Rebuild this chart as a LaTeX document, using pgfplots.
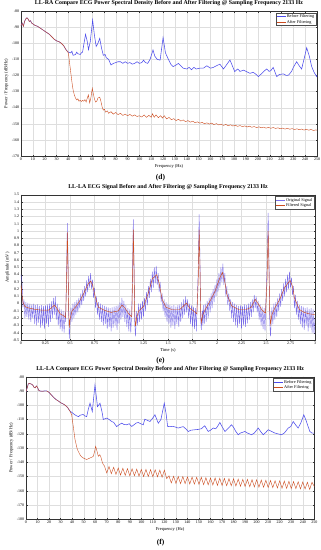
\documentclass[border=0pt]{standalone}
\usepackage{fontspec}
\setmainfont{Liberation Serif}
\usepackage{pgfplots}
\pgfplotsset{compat=1.18}
\definecolor{bfc}{rgb}{0.30,0.30,0.92}
\definecolor{ofc}{rgb}{0.36,0.30,0.90}
\definecolor{afc}{rgb}{0.80,0.30,0.12}
\definecolor{gridc}{gray}{0.87}
\pgfplotsset{
 mystyle/.style={
   scale only axis,
   anchor=north west,
   /pgf/number format/assume math mode=true,
   tick label style={font=\fontsize{8}{9}\selectfont},
   grid=major,
   major grid style={gridc, line width=0.4pt},
   axis line style={black!80, line width=0.5pt},
   tick style={black!80, line width=0.4pt},
   major tick length=3pt,
   title style={font=\bfseries\fontsize{11.8}{13}\selectfont, anchor=south, at={(0.5,1)}, yshift=0pt},
   label style={font=\fontsize{9}{10}\selectfont},
   legend style={font=\fontsize{8.5}{10}\selectfont, at={(1,1)}, anchor=north east, xshift=-2pt, yshift=-3pt, draw=black!70, line width=0.4pt, inner sep=1.5pt},
   legend cell align=left,
 }
}
\begin{document}
\begin{tikzpicture}
\useasboundingbox (0,0) rectangle (642pt,-1100pt);
% ---------------- (d) ----------------
\begin{axis}[mystyle, at={(42pt,-22pt)}, width=592pt, height=290pt,
  xmin=0, xmax=250, ymin=-170, ymax=-80,
  xtick={0,10,...,250}, ytick={-170,-160,...,-80},
  title={LL-RA Compare ECG Power Spectral Density Before and After Filtering @ Sampling Frequency 2133 Hz},
  xlabel={Frequency (Hz)}, ylabel={Power / Frequency (dB/Hz)}]
\addplot[bfc, line width=1.1pt] coordinates {
(0,-89) (1,-87.5) (2,-89.5) (3,-86.5) (4,-85) (5,-84.2) (6,-85) (7,-86.5) (8,-86) (9,-87.5) (10,-88)
(12,-89) (14,-89.5) (16,-90.5) (18,-91.5) (20,-92.5) (22,-93.5) (24,-94.5) (26,-96) (28,-97.5) (30,-98.5)
(32,-99) (34,-100) (36,-101.5) (38,-104) (40,-105.5) (42,-106) (43,-105) (44,-107.5) (46,-107) (47,-105.5)
(48,-106.5) (50,-107) (51,-106) (52,-105.5) (53,-101) (54.5,-94.5) (56,-99) (57,-104) (58.5,-99) (60.5,-85.6)
(62,-95) (63.5,-102) (65,-100) (66.5,-97) (68,-103) (69.5,-107.5) (71,-107) (72,-109) (74,-110) (76,-113.5)
(78,-112.5) (80,-112) (82,-111.5) (84,-111.5) (86,-112.5) (88,-111.5) (90,-112.5) (92,-112) (94,-113) (96,-112.5)
(98,-111.5) (100,-112.5) (102,-112) (103.5,-110.5) (105,-112) (107,-112.5) (109,-110) (111.5,-104.2) (113,-108)
(115,-110) (117.5,-110.5) (120,-96.5) (122,-106) (124.5,-110) (126.5,-113) (128.5,-114.5) (131,-113.5) (133,-112.5)
(135,-114) (137,-115.5) (140,-116) (142,-115) (144,-116.5) (146,-115) (148,-116) (151,-115.5) (154,-115.5)
(157,-114) (160,-115.5) (162.5,-115) (165,-114) (168,-113) (170,-115) (171,-116) (173,-114) (176.5,-110.4)
(178.5,-114) (180.5,-117.6) (183,-116) (185,-117.5) (188,-116.7) (190,-117.5) (193.5,-118.7) (196,-118) (198,-119)
(200.5,-120.7) (203,-119) (205,-117.5) (207.5,-116) (209.5,-117.5) (211,-117) (213,-115) (216,-120.7) (218,-119.5)
(221.5,-119) (224,-120) (226,-119.8) (228.5,-117.5) (230,-115) (232.8,-111.5) (235,-114) (237,-116) (239,-110)
(241.3,-102.8) (243.5,-108) (245.5,-114.5) (247.5,-118) (249.7,-120.7) (250,-120)
};
\addlegendentry{Before Filtering}
\addplot[afc, line width=0.8pt] coordinates {
(0,-89) (1,-87.5) (2,-89.5) (3,-86.5) (4,-85) (5,-84.2) (6,-85) (7,-86.5) (8,-86) (9,-87.5) (10,-88)
(12,-89) (14,-89.5) (16,-90.5) (18,-91.5) (20,-92.5) (22,-93.5) (24,-94.5) (26,-96) (28,-97.5) (30,-98.5)
(32,-99) (34,-100) (36,-101.5) (38,-104) (40,-106) (41,-112) (42,-118) (43,-124) (44,-129) (45,-132) (46,-134)
(47,-135.2) (48,-134.5) (49,-136) (50,-135.5) (51,-136.2) (52,-135.5) (53,-136) (54,-135) (55,-136.5) (56,-134)
(56.9,-132) (58,-137) (59,-134) (60.2,-128) (61,-131) (62,-134.5) (63,-136.5) (64,-136) (65,-134) (66.5,-133.5)
(67.5,-136) (68.5,-139.5) (69.5,-141.5) (70.5,-141) (71.5,-142.8) (73,-142) (74,-143.5) (76,-142.5) (78,-144)
(80,-143) (82,-144.3) (84,-143.5) (86,-144.8) (88,-144) (90,-145) (92,-144.2) (94,-145.3) (96,-144.5) (98,-145.5)
(100,-145) (102,-145.8) (104,-144.5) (106,-146) (108,-144.8) (110,-146) (111,-143.8) (112.5,-146) (114,-144.5)
(116,-146.2) (118,-145) (119.5,-146.5) (121,-145) (123,-147) (125,-146) (127,-147.5) (129,-146.8) (131,-148)
(133,-147.2) (135,-148.3) (137,-147.6) (139,-148.7) (141,-148) (143,-149) (145,-148.4) (147,-149.3) (149,-148.8)
(151,-149.6) (153,-149.1) (155,-150) (157,-149.4) (159,-150.2) (161,-149.6) (163,-150.5) (165,-149.9) (167,-150.7)
(169,-150.2) (171,-151) (173,-150.4) (175,-151.2) (177,-150.6) (179,-151.4) (181,-150.9) (183,-151.6) (185,-151.1)
(187,-151.8) (189,-151.3) (191,-152) (193,-151.5) (195,-152.2) (197,-151.7) (199,-152.4) (201,-151.9) (203,-152.5)
(205,-152.1) (207,-152.7) (209,-152.2) (211,-152.8) (213,-152.3) (215,-152.9) (217,-152.5) (219,-153.1) (221,-152.7)
(223,-153.3) (225,-152.8) (227,-153.4) (229,-153) (231,-153.6) (233,-153.1) (235,-153.7) (237,-153.3) (239,-153.9)
(241,-153.4) (243,-154) (245,-153.5) (247,-154.2) (249,-153.8) (250,-154)
};
\addlegendentry{After Filtering}
\end{axis}
\node[font=\bfseries\fontsize{15}{16}\selectfont] at (321pt,-356pt) {(d)};
% ---------------- (e) ----------------
\begin{axis}[mystyle, at={(42pt,-389.4pt)}, width=588pt, height=290.6pt,
  xmin=0, xmax=3, ymin=-0.5, ymax=1.5,
  xtick={0,0.25,...,3}, ytick={-0.5,-0.4,...,1.5},
  /pgf/number format/.cd, fixed, precision=2, /pgfplots/.cd,
  title={LL-LA ECG Signal Before and After Filtering @ Sampling Frequency 2133 Hz},
  xlabel={Time (s)}, ylabel={Amplitude (mV)}]
\addplot[ofc, line width=0.8pt, draw opacity=0.8] coordinates {
(0.00,0.40) (0.01,0.30) (0.02,-0.05) (0.03,0.06) (0.04,-0.20) (0.05,0.02) (0.06,-0.18) (0.07,0.01) (0.08,-0.22) (0.09,0.00)
(0.10,-0.25) (0.11,-0.01) (0.12,-0.20) (0.13,0.00) (0.14,-0.28) (0.15,-0.02) (0.16,-0.30) (0.17,-0.01) (0.18,-0.26) (0.19,-0.03)
(0.20,-0.33) (0.21,-0.02) (0.22,-0.30) (0.23,-0.03) (0.24,-0.35) (0.25,-0.02) (0.26,-0.28) (0.27,-0.01) (0.28,-0.32) (0.29,0.00)
(0.30,-0.25) (0.31,0.03) (0.32,-0.20) (0.33,0.08) (0.34,-0.15) (0.35,0.10) (0.36,-0.22) (0.37,0.00) (0.38,-0.30) (0.39,-0.05)
(0.40,-0.35) (0.41,-0.08) (0.42,-0.38) (0.43,-0.10) (0.44,-0.40) (0.45,-0.12) (0.455,-0.25) (0.465,0.40) (0.473,1.11) (0.48,0.60)
(0.487,-0.20) (0.493,-0.48) (0.50,-0.30) (0.51,-0.05) (0.52,-0.25) (0.53,0.00) (0.54,-0.20) (0.55,0.02) (0.56,-0.15) (0.57,0.05)
(0.58,-0.12) (0.59,0.08) (0.60,-0.06) (0.61,0.14) (0.62,-0.02) (0.63,0.19) (0.64,0.04) (0.65,0.24) (0.66,0.10) (0.67,0.32)
(0.68,0.16) (0.69,0.38) (0.70,0.22) (0.71,0.42) (0.72,0.20) (0.73,0.33) (0.74,0.08) (0.75,0.22) (0.76,-0.06) (0.77,0.10)
(0.78,-0.15) (0.79,0.02) (0.80,-0.22) (0.81,0.00) (0.82,-0.25) (0.83,-0.02) (0.84,-0.30) (0.85,-0.03) (0.86,-0.28) (0.87,-0.04)
(0.88,-0.35) (0.89,-0.05) (0.90,-0.32) (0.91,-0.06) (0.92,-0.38) (0.93,-0.05) (0.94,-0.33) (0.95,-0.04) (0.96,-0.30) (0.97,-0.03)
(0.98,-0.36) (0.99,-0.02) (1.00,-0.28) (1.01,0.02) (1.02,-0.22) (1.03,0.08) (1.04,-0.18) (1.05,0.04) (1.06,-0.25) (1.07,-0.02)
(1.08,-0.32) (1.09,-0.06) (1.10,-0.38) (1.11,-0.08) (1.12,-0.40) (1.13,-0.12) (1.138,0.45) (1.146,1.16) (1.153,0.62) (1.16,-0.25)
(1.168,-0.45) (1.18,-0.10) (1.19,-0.30) (1.20,0.00) (1.21,-0.25) (1.22,0.00) (1.23,-0.22) (1.24,0.04) (1.25,-0.18) (1.26,0.08)
(1.27,-0.10) (1.28,0.16) (1.29,-0.02) (1.30,0.24) (1.31,0.08) (1.32,0.34) (1.33,0.16) (1.34,0.44) (1.35,0.22) (1.36,0.50)
(1.37,0.28) (1.38,0.52) (1.39,0.26) (1.40,0.42) (1.41,0.16) (1.42,0.30) (1.43,0.02) (1.44,0.14) (1.45,-0.10) (1.46,0.06)
(1.47,-0.18) (1.48,0.02) (1.49,-0.25) (1.50,0.00) (1.51,-0.28) (1.52,-0.02) (1.53,-0.33) (1.54,-0.03) (1.55,-0.30) (1.56,-0.02)
(1.57,-0.35) (1.58,-0.04) (1.59,-0.28) (1.60,-0.02) (1.61,-0.32) (1.62,-0.01) (1.63,-0.25) (1.64,0.02) (1.65,-0.20) (1.66,0.06)
(1.67,-0.15) (1.68,0.10) (1.69,-0.12) (1.70,0.06) (1.71,-0.20) (1.72,0.00) (1.73,-0.28) (1.74,-0.02) (1.75,-0.32) (1.76,-0.04)
(1.77,-0.35) (1.78,-0.06) (1.79,-0.38) (1.795,-0.10) (1.808,0.45) (1.818,1.23) (1.826,0.65) (1.833,-0.20) (1.84,-0.36) (1.85,-0.10)
(1.855,-0.30) (1.86,-0.02) (1.87,-0.28) (1.88,0.00) (1.89,-0.25) (1.90,0.04) (1.91,-0.20) (1.92,0.08) (1.93,-0.12) (1.94,0.14)
(1.95,-0.06) (1.96,0.20) (1.97,0.02) (1.98,0.26) (1.99,0.10) (2.00,0.34) (2.01,0.16) (2.02,0.42) (2.03,0.22) (2.04,0.50)
(2.05,0.30) (2.06,0.55) (2.07,0.26) (2.08,0.42) (2.09,0.10) (2.10,0.24) (2.11,-0.02) (2.12,0.14) (2.13,-0.10) (2.14,0.06)
(2.15,-0.20) (2.16,0.02) (2.17,-0.25) (2.18,0.00) (2.19,-0.30) (2.20,-0.02) (2.21,-0.33) (2.22,-0.03) (2.23,-0.28) (2.24,-0.02)
(2.25,-0.35) (2.26,-0.03) (2.27,-0.30) (2.28,-0.01) (2.29,-0.32) (2.30,-0.02) (2.31,-0.27) (2.32,0.00) (2.33,-0.22) (2.34,0.02)
(2.35,-0.18) (2.36,0.06) (2.37,-0.12) (2.38,0.12) (2.39,-0.06) (2.40,0.10) (2.41,-0.12) (2.42,0.04) (2.43,-0.22) (2.44,-0.01)
(2.45,-0.30) (2.46,-0.04) (2.47,-0.35) (2.48,-0.06) (2.49,-0.38) (2.495,-0.10) (2.51,0.45) (2.522,1.25) (2.53,0.65) (2.538,-0.25)
(2.546,-0.45) (2.56,-0.05) (2.57,-0.28) (2.58,0.00) (2.59,-0.22) (2.60,0.02) (2.61,-0.18) (2.62,0.08) (2.63,-0.10) (2.64,0.14)
(2.65,-0.04) (2.66,0.20) (2.67,0.04) (2.68,0.28) (2.69,0.10) (2.70,0.34) (2.71,0.16) (2.72,0.40) (2.73,0.20) (2.74,0.44)
(2.75,0.22) (2.76,0.36) (2.77,0.12) (2.78,0.24) (2.79,-0.06) (2.80,0.12) (2.81,-0.15) (2.82,0.04) (2.83,-0.22) (2.84,-0.02)
(2.85,-0.28) (2.86,-0.03) (2.87,-0.33) (2.88,-0.04) (2.89,-0.36) (2.90,-0.06) (2.91,-0.30) (2.92,-0.05) (2.93,-0.38) (2.94,-0.07)
(2.95,-0.33) (2.96,-0.06) (2.97,-0.40) (2.98,-0.08) (2.99,-0.42) (3.00,-0.20)
};
\addlegendentry{Original Signal}
\addplot[afc, line width=0.9pt] coordinates {
(0.000,0.25) (0.010,0.12) (0.020,0.02) (0.040,-0.04) (0.080,-0.06) (0.150,-0.08) (0.220,-0.09) (0.280,-0.09)
(0.310,-0.06) (0.340,-0.02) (0.360,-0.05) (0.400,-0.14) (0.440,-0.17) (0.455,-0.19) (0.465,0.30) (0.473,0.98)
(0.480,0.50) (0.487,-0.10) (0.493,-0.33) (0.500,-0.22) (0.520,-0.10) (0.560,-0.04) (0.600,0.04) (0.640,0.14)
(0.680,0.26) (0.710,0.31) (0.730,0.26) (0.760,0.08) (0.790,-0.05) (0.850,-0.09) (0.920,-0.12) (0.990,-0.10)
(1.030,-0.02) (1.060,-0.06) (1.100,-0.14) (1.130,-0.18) (1.138,0.30) (1.146,1.02) (1.153,0.50) (1.160,-0.10)
(1.168,-0.31) (1.180,-0.20) (1.200,-0.10) (1.250,-0.04) (1.300,0.15) (1.340,0.34) (1.385,0.40) (1.410,0.28)
(1.440,0.06) (1.480,-0.05) (1.540,-0.08) (1.620,-0.08) (1.660,-0.03) (1.690,0.01) (1.720,-0.06) (1.760,-0.10)
(1.795,-0.14) (1.808,0.30) (1.818,1.02) (1.826,0.50) (1.833,-0.10) (1.840,-0.26) (1.855,-0.15) (1.880,-0.08)
(1.930,0.04) (1.980,0.17) (2.030,0.36) (2.055,0.43) (2.080,0.30) (2.100,0.13) (2.150,-0.03) (2.220,-0.08)
(2.300,-0.08) (2.350,-0.05) (2.390,0.06) (2.420,0.00) (2.460,-0.09) (2.495,-0.13) (2.510,0.30) (2.522,1.00)
(2.530,0.50) (2.538,-0.10) (2.546,-0.28) (2.560,-0.15) (2.590,-0.06) (2.640,0.06) (2.690,0.22) (2.745,0.32)
(2.770,0.24) (2.790,0.08) (2.840,-0.08) (2.890,-0.12) (2.940,-0.14) (3.000,-0.15)
};
\addlegendentry{Filtered Signal}
\end{axis}
\node[font=\bfseries\fontsize{15}{16}\selectfont] at (321pt,-721pt) {(e)};
% ---------------- (f) ----------------
\begin{axis}[mystyle, at={(52pt,-753.4pt)}, width=576.6pt, height=285.2pt,
  xmin=0, xmax=250, ymin=-180, ymax=-80,
  xtick={0,10,...,250}, ytick={-180,-170,...,-80},
  title={LL-LA Compare ECG Power Spectral Density Before and After Filtering @ Sampling Frequency 2133 Hz},
  xlabel={Frequency (Hz)}, ylabel={Power / Frequency (dB/Hz)}]
\addplot[bfc, line width=1.1pt] coordinates {
(0,-90.5) (1,-88) (2,-85) (3,-84.7) (4,-85) (5,-85.3) (6,-86) (7,-87.5) (8,-87.8) (9,-86.5) (10,-87.5) (11,-89.5)
(12,-90) (14,-90.2) (16,-90) (18,-90) (20,-91) (22,-92.8) (24,-94.5) (26,-96) (28,-97) (30,-98.2) (32,-99) (34,-100)
(36,-101.5) (38,-104) (40,-105.2) (42,-106.5) (44,-107.5) (45.5,-108) (47,-107) (49.5,-106.5) (51,-107.5) (52.6,-108)
(54,-103) (55.5,-98.6) (57.5,-104.4) (59.8,-85.8) (62,-101) (64.2,-98.6) (66,-105) (67,-110) (70,-109) (72,-110)
(74.3,-111.4) (76,-112) (78.6,-115) (81,-113.5) (83,-112.6) (85,-113.5) (87.3,-113.7) (89.5,-113) (91.6,-114.9)
(94,-113.5) (95.5,-112.5) (97.4,-112.1) (99.5,-113) (101.7,-113.7) (103,-109.8) (105,-110.5) (107.5,-111.4)
(109.5,-109.5) (111.8,-106.7) (114.7,-112.6) (117,-110) (119.9,-98.6) (121.5,-106) (122.8,-114.9) (125,-115)
(127,-114.8) (129.5,-115.3) (132,-116) (134,-115.5) (136.3,-115) (138.5,-116.5) (140.7,-118.4) (143,-117.5)
(146.4,-117.2) (149,-117) (152,-116.5) (155,-114.4) (158,-118.4) (160,-117.5) (162.4,-116) (164.5,-116.5) (166,-115)
(168.1,-112.1) (170,-115) (172.5,-118.4) (175,-116.5) (178.2,-113.7) (180,-115.5) (182,-118.5) (184,-120.7)
(186,-119.5) (189.8,-118.4) (192,-119.5) (195.6,-120.7) (198,-119.5) (201.4,-116) (203.5,-118.5) (205.7,-120.7)
(208,-119) (210,-117.2) (212,-118) (215.8,-119.5) (218,-120) (221.6,-120.7) (224,-119.5) (227.4,-116) (229.5,-115)
(231.7,-111.4) (234,-114) (236,-116) (238.5,-112) (240.9,-106.7) (243,-111) (246.1,-118.4) (248,-119.5) (250,-119.5)
};
\addlegendentry{Before Filtering}
\addplot[afc, line width=0.8pt] coordinates {
(0,-90.5) (1,-88) (2,-85) (3,-84.7) (4,-85) (5,-85.3) (6,-86) (7,-87.5) (8,-87.8) (9,-86.5) (10,-87.5) (11,-89.5)
(12,-90) (14,-90.2) (16,-90) (18,-90) (20,-91) (22,-92.8) (24,-94.5) (26,-96) (28,-97) (30,-98.2) (32,-99) (34,-100)
(36,-101.5) (38,-104) (39.6,-106.7) (41,-115) (42.5,-124) (44.5,-131) (46.8,-134.7) (48,-136) (49.7,-137) (51,-137.5)
(52.6,-138.1) (54,-137.5) (55.5,-137) (57,-136.5) (58.4,-135.8) (59.3,-133) (60.4,-128.8) (61.5,-132) (62.7,-135.8)
(64,-134.7) (65,-136.5) (66,-139.5) (67,-141.6) (68,-142.5) (70,-147.5) (72,-143) (74,-148) (76,-143.5) (78,-148.5)
(80,-144) (82,-149) (84,-144.2) (86,-149.2) (88,-144.5) (90,-149.5) (92,-144.5) (94,-149.5) (96,-144.8) (98,-149.8)
(100,-145) (102,-150) (104,-145) (106,-150) (108,-145.2) (110,-150.2) (112,-145.2) (114,-150.2) (116,-145.5)
(118,-150.5) (120,-145.5) (122,-151.5) (124,-149.5) (126,-154.5) (128,-149.8) (130,-154.8) (132,-150) (134,-155)
(136,-150) (138,-155) (140,-150.2) (142,-155.2) (144,-150.3) (146,-155.3) (148,-150.5) (150,-155.5) (152,-150.5)
(154,-155.7) (156,-150.8) (158,-155.8) (160,-151) (162,-156) (164,-151) (166,-156.2) (168,-151.2) (170,-156.3)
(172,-151.3) (174,-156.5) (176,-151.5) (178,-156.5) (180,-151.6) (182,-156.7) (184,-151.8) (186,-156.8) (188,-152)
(190,-157) (192,-152) (194,-157.2) (196,-152.2) (198,-157.3) (200,-152.3) (202,-157.5) (204,-152.5) (206,-157.5)
(208,-152.6) (210,-157.7) (212,-152.8) (214,-157.8) (216,-153) (218,-158) (220,-153) (222,-158.2) (224,-153.2)
(226,-158.3) (228,-153.3) (230,-158.5) (232,-153.5) (234,-158.5) (236,-153.6) (238,-158.7) (240,-153.8) (242,-158.8)
(244,-154) (246,-159) (248,-154) (250,-157)
};
\addlegendentry{After Filtering}
\end{axis}
\node[font=\bfseries\fontsize{15}{16}\selectfont] at (321pt,-1086pt) {(f)};
\end{tikzpicture}
\end{document}
